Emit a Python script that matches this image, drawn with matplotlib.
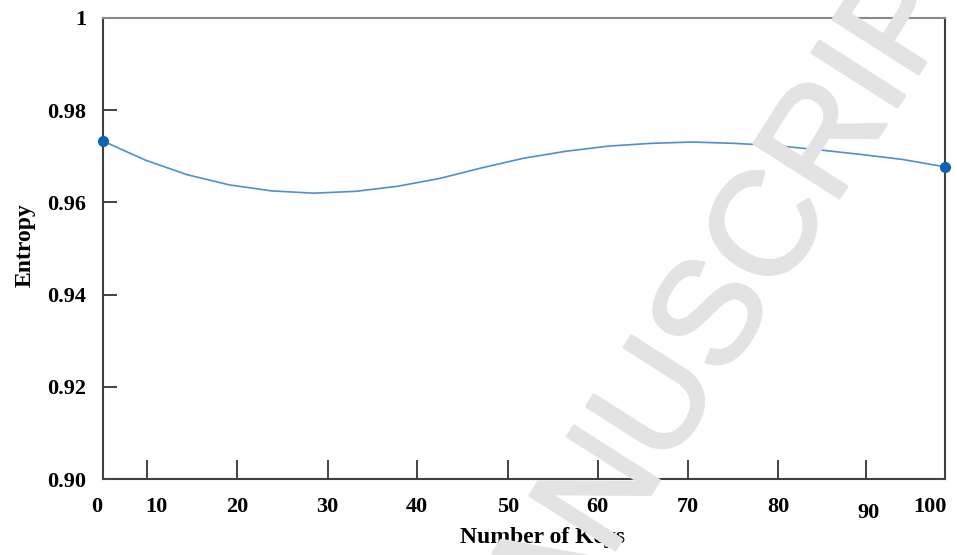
import matplotlib
matplotlib.use("Agg")
import matplotlib.pyplot as plt
import matplotlib.patheffects as pe

# values
keys = [0, 5, 10, 15, 20, 25, 30, 35, 40, 45, 50, 55, 60, 65, 70, 75, 80, 85, 90, 95, 100]
entropy = [0.9733, 0.9692, 0.9660, 0.9638, 0.9625, 0.9620, 0.9624, 0.9635, 0.9652, 0.9675,
           0.9696, 0.9711, 0.9722, 0.9728, 0.9731, 0.9728, 0.9723, 0.9714, 0.9704, 0.9693, 0.9677]

x_labels = ["0", "10", "20", "30", "40", "50", "60", "70", "80", "90", "100"]
y_ticks = [0.90, 0.92, 0.94, 0.96, 0.98, 1.0]
y_labels = ["0.90", "0.92", "0.94", "0.96", "0.98", "1"]

# where the marks and labels sit on the (uneven) x axis of the original
x_tick_pos = [5.2, 15.9, 26.7, 37.3, 48.1, 58.8, 69.5, 80.2, 90.6]
x_label_pos = [-0.7, 6.4, 15.9, 26.6, 37.3, 48.1, 58.7, 69.5, 80.2, 90.9, 98.2]

serif = "Liberation Serif"

fig = plt.figure(figsize=(9.57, 5.55), dpi=100)
ax = fig.add_axes([0.1076, 0.1369, 0.88, 0.8307])

ax.plot(keys, entropy, color="#4a90d6", lw=1.2, marker="o", markersize=7,
        markerfacecolor="#0b63b6", markeredgecolor="#0b63b6", markevery=[0, len(keys) - 1],
        clip_on=False, zorder=3)

ax.set_xlim(0, 100)
ax.set_ylim(0.90, 1.0)

for s in ["left", "bottom", "right"]:
    ax.spines[s].set_color("#404040")
    ax.spines[s].set_linewidth(1.5)
ax.spines["top"].set_color("#8a8a8a")
ax.spines["top"].set_linewidth(1.5)

ax.set_yticks(y_ticks)
ax.set_yticklabels(y_labels, fontfamily=serif, fontweight="bold", fontsize=16)
ax.tick_params(axis="y", direction="in", length=10, width=1.2, color="#222222", pad=12)

ax.set_xticks(x_tick_pos)
ax.set_xticklabels([])
ax.tick_params(axis="x", direction="in", length=14, width=1.2, color="#222222")

trans = ax.get_xaxis_transform()
for pos, lab in zip(x_label_pos, x_labels):
    yy = -0.060 if lab != "90" else -0.074
    ax.text(pos, yy, lab, transform=trans, ha="center", va="center",
            fontfamily=serif, fontweight="bold", fontsize=16)

fig.text(0.567, 0.031, "Number of Keys", ha="center", va="center",
         fontfamily=serif, fontweight="bold", fontsize=17)
fig.text(0.026, 0.558, "Entropy", ha="center", va="center", rotation=90,
         fontfamily=serif, fontweight="bold", fontsize=17)

# watermark stamped over the source figure
wm_color = "#e3e3e3"
fig.text(0.752, 0.432, "MANUSCRIPT", ha="center", va="center", rotation=57.5,
         rotation_mode="anchor", fontfamily="Liberation Sans",
         fontsize=106, color=wm_color, zorder=10,
         path_effects=[pe.withStroke(linewidth=2.2, foreground=wm_color)])

fig.savefig("out.png", dpi=100)
